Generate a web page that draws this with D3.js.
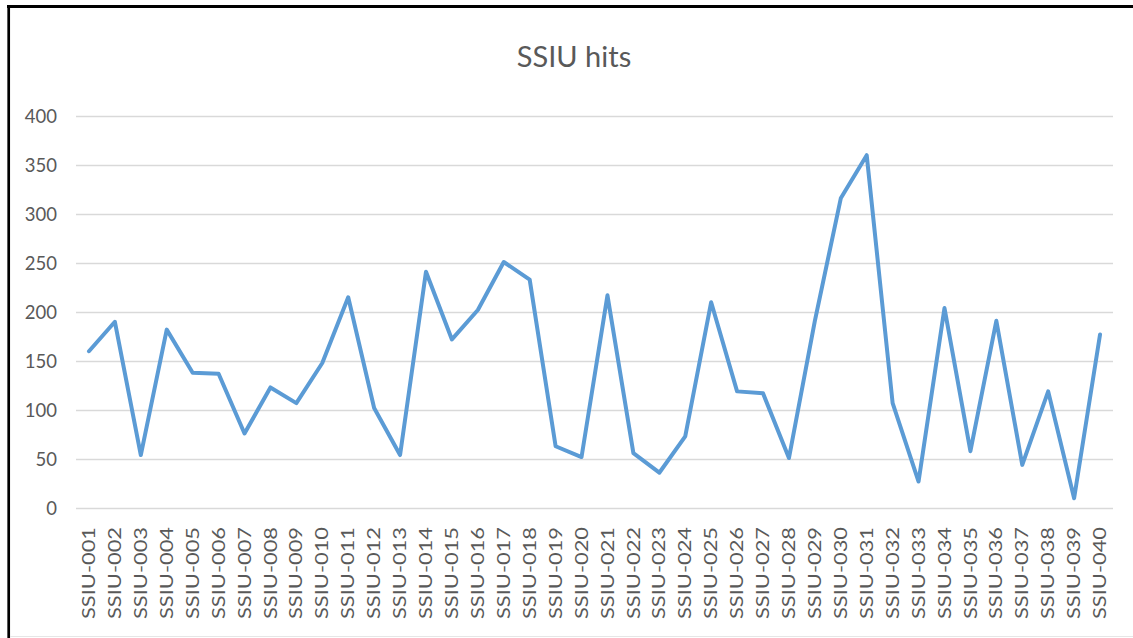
<!DOCTYPE html>
<html>
<head>
<meta charset="utf-8">
<script src="https://cdn.jsdelivr.net/npm/d3@7"></script>
<style>
  html, body { margin: 0; padding: 0; background: #fff; }
  svg { display: block; font-family: Lato, "Open Sans", sans-serif; }
</style>
</head>
<body>
<svg id="chart" width="1133" height="638"></svg>
<script>
const categories = d3.range(1, 41).map(i => 'SSIU-' + String(i).padStart(3, '0'));
const hits = [160, 190, 54, 182, 138, 137, 76, 123, 107, 148,
              215, 102, 54, 241, 172, 202, 251, 233, 63, 52,
              217, 56, 36, 73, 210, 119, 117, 51, 191, 316,
              360, 107, 27, 204, 58, 191, 44, 119, 10, 177];
const yTicks = [0, 50, 100, 150, 200, 250, 300, 350, 400];

const TEXT = '#595959';
const GRID = '#d9d9d9';
const LINE = '#5b9bd5';

const svg = d3.select('#chart');
const W = 1133, H = 638;
const plot = { left: 76, right: 1113, top: 116, bottom: 508 };

// frame
svg.append('line').attr('x1', 7).attr('x2', W).attr('y1', 6.5).attr('y2', 6.5)
  .attr('stroke', '#000').attr('stroke-width', 3);
svg.append('line').attr('x1', 8.7).attr('x2', 8.7).attr('y1', 5).attr('y2', H)
  .attr('stroke', '#000').attr('stroke-width', 2.7);
svg.append('line').attr('x1', 10).attr('x2', W).attr('y1', 636.5).attr('y2', 636.5)
  .attr('stroke', '#e6e6e6').attr('stroke-width', 1);

const x = d3.scaleBand().domain(categories).range([plot.left, plot.right]);
const y = d3.scaleLinear().domain([0, 400]).range([plot.bottom, plot.top]);
const cx = d => x(d) + x.bandwidth() / 2;

// title
svg.append('text').attr('x', 574).attr('y', 67).attr('text-anchor', 'middle')
  .attr('fill', TEXT).attr('font-size', 29).text('SSIU hits');

// gridlines
svg.append('g').selectAll('line').data(yTicks).enter().append('line')
  .attr('x1', plot.left).attr('x2', plot.right)
  .attr('y1', d => Math.round(y(d)) + 0.5).attr('y2', d => Math.round(y(d)) + 0.5)
  .attr('stroke', GRID).attr('stroke-width', 1.3);

// y axis labels
const yAxis = svg.append('g').attr('transform', 'translate(57,0)')
  .call(d3.axisLeft(y).tickValues(yTicks).tickSize(0).tickPadding(0));
yAxis.select('.domain').remove();
yAxis.selectAll('text').attr('fill', TEXT).attr('font-size', 18.5)
  .attr('font-family', 'Lato, "Open Sans", sans-serif').attr('dy', '0.35em');

// x axis labels (rotated)
svg.append('g').selectAll('text').data(categories).enter().append('text')
  .attr('transform', d => `translate(${cx(d)},527) rotate(-90)`)
  .attr('text-anchor', 'end').attr('dy', '0.36em')
  .attr('fill', TEXT).attr('font-size', 17)
  .attr('textLength', 92).attr('lengthAdjust', 'spacingAndGlyphs')
  .text(d => d);

// series line
const line = d3.line().x((d, i) => cx(categories[i])).y(d => y(d));
svg.append('path').datum(hits).attr('d', line)
  .attr('fill', 'none').attr('stroke', LINE).attr('stroke-width', 4)
  .attr('stroke-linejoin', 'round').attr('stroke-linecap', 'round');
</script>
</body>
</html>
